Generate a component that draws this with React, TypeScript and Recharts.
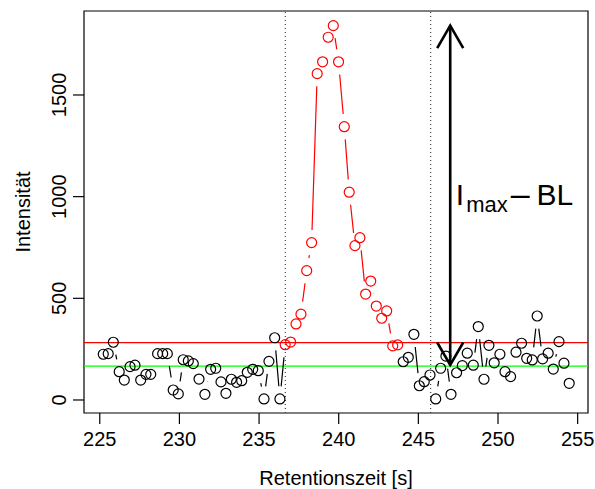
import React from "react";
import {
  ScatterChart,
  Scatter,
  XAxis,
  YAxis,
  ReferenceLine,
  ReferenceArea,
  ReferenceDot,
  Label,
} from "recharts";

// retention time [s] and intensity
const preTime = [
  225.22, 225.53, 225.85, 226.22, 226.54, 226.9, 227.21, 227.57, 227.9, 228.2,
  228.63, 228.95, 229.24, 229.61, 229.93, 230.24, 230.56, 230.87, 231.23, 231.6,
  231.96, 232.28, 232.61, 232.92, 233.26, 233.59, 233.91, 234.26, 234.6, 234.95,
  235.31, 235.62, 235.98, 236.31,
];
const preInt = [
  225, 228, 284, 139, 98, 164, 171, 98, 126, 126, 228, 228, 228, 49, 30, 198,
  192, 179, 103, 28, 151, 156, 89, 33, 102, 87, 95, 136, 151, 144, 5, 190, 306,
  5,
];

const peakTime = [
  236.64, 236.98, 237.32, 237.63, 237.99, 238.3, 238.65, 238.99, 239.34, 239.66,
  239.99, 240.35, 240.66, 241.02, 241.33, 241.69, 242.01, 242.36, 242.7, 243.01,
  243.39, 243.7,
];
const peakInt = [
  272, 285, 374, 422, 636, 774, 1605, 1663, 1784, 1841, 1663, 1344, 1022, 759,
  798, 521, 585, 462, 402, 438, 266, 271,
];

const postTime = [
  244.05, 244.37, 244.72, 245.06, 245.37, 245.73, 246.09, 246.4, 246.73, 247.05,
  247.4, 247.76, 248.07, 248.45, 248.76, 249.12, 249.43, 249.76, 250.12, 250.44,
  250.79, 251.13, 251.48, 251.8, 252.15, 252.46, 252.8, 253.15, 253.47, 253.83,
  254.14, 254.47,
];
const postInt = [
  188, 210, 323, 70, 90, 123, 5, 156, 216, 28, 134, 169, 230, 171, 361, 102,
  269, 183, 225, 139, 115, 235, 279, 205, 197, 413, 202, 230, 152, 287, 181, 82,
];

const xTicks = [225, 230, 235, 240, 245, 250, 255];
const yTicks = [0, 500, 1000, 1500];
const xDomain = [224.01, 255.65];
const yDomain = [-64, 1913];

const baseLine = 167; // BL
const threshold = 282;
const iMax = 1841;
const windowStart = 236.65;
const windowEnd = 245.77;
const arrowTime = 247.0;
const arrowEnd = 172;
const labelTime = 247.35;
const labelInt = 959;

const FONT = '"Liberation Sans", Arial, Helvetica, sans-serif';
const GAP = 12.7;

const zip = (t: number[], v: number[], hidden = false) =>
  t.map((x, i) => ({ t: x, v: v[i], hidden }));

// black line also runs into the first / out of the last red point
const preData = [...zip(preTime, preInt), ...zip(peakTime.slice(0, 1), peakInt.slice(0, 1), true)];
const peakData = zip(peakTime, peakInt);
const postData = [...zip(peakTime.slice(-1), peakInt.slice(-1), true), ...zip(postTime, postInt)];

// R style type="b": segments with a gap around every point
const gapLine = (color: string) => (props: any) => {
  const pts = props.points || [];
  const segs: React.ReactNode[] = [];
  for (let i = 0; i < pts.length - 1; i++) {
    const a = pts[i];
    const b = pts[i + 1];
    const dx = b.x - a.x;
    const dy = b.y - a.y;
    const d = Math.hypot(dx, dy);
    if (d <= 2 * GAP) continue;
    const ux = dx / d;
    const uy = dy / d;
    segs.push(
      <line
        key={i}
        x1={a.x + ux * GAP}
        y1={a.y + uy * GAP}
        x2={b.x - ux * GAP}
        y2={b.y - uy * GAP}
        stroke={color}
        strokeWidth={1.2}
      />
    );
  }
  return <g>{segs}</g>;
};

const ring = (color: string) => (props: any) =>
  props.payload && props.payload.hidden ? (
    <g />
  ) : (
    <circle cx={props.cx} cy={props.cy} r={5} fill="none" stroke={color} strokeWidth={1.2} />
  );

const YTick = (props: any) => {
  const { x, y, payload } = props;
  return (
    <text
      x={x}
      y={y}
      transform={`rotate(-90 ${x} ${y})`}
      textAnchor="middle"
      fontSize={20}
      fill="#000"
      fontFamily={FONT}
    >
      {payload.value}
    </text>
  );
};

const arrowShape = (props: any) => {
  const { x1, y1, x2, y2 } = props;
  const len = 26;
  const ang = (30 * Math.PI) / 180;
  const head = (tx: number, ty: number, dir: number) => {
    const hx = Math.sin(ang) * len;
    const hy = Math.cos(ang) * len * dir;
    return `M${tx - hx},${ty + hy} L${tx},${ty} L${tx + hx},${ty + hy}`;
  };
  const top = Math.min(y1, y2);
  const bottom = Math.max(y1, y2);
  return (
    <g stroke="#000" strokeWidth={2.6} fill="none">
      <line x1={x1} y1={top} x2={x2} y2={bottom} />
      <path d={head(x1, top, 1)} />
      <path d={head(x2, bottom, -1)} />
    </g>
  );
};

const annotation = (props: any) => (
  <text x={props.cx} y={props.cy} fontFamily={FONT} fontSize={30} fill="#000">
    I
    <tspan fontSize={22} dy={6.7} dx={2}>
      max
    </tspan>
    <tspan dy={-6.7} dx={3} fontSize={34}>
      –
    </tspan>
    <tspan dx={7}>BL</tspan>
  </text>
);

const yLabel = (props: any) => {
  const vb = props.viewBox;
  const x = vb.x + 30;
  const y = vb.y + vb.height / 2;
  return (
    <text
      x={x}
      y={y}
      transform={`rotate(-90 ${x} ${y})`}
      textAnchor="middle"
      fontSize={20}
      fill="#000"
      fontFamily={FONT}
    >
      Intensität
    </text>
  );
};

const xLabel = (props: any) => {
  const vb = props.viewBox;
  return (
    <text
      x={vb.x + vb.width / 2}
      y={vb.y + 72}
      textAnchor="middle"
      fontSize={20}
      fill="#000"
      fontFamily={FONT}
    >
      Retentionszeit [s]
    </text>
  );
};

export default function App() {
  return (
    <div style={{ position: "absolute", left: 0, top: 0, width: 595, height: 489, background: "#fff", fontFamily: FONT }}>
      <ScatterChart width={595} height={489} margin={{ top: 11, right: 7, bottom: 0, left: 0 }}>
        <XAxis
          type="number"
          dataKey="t"
          domain={xDomain}
          allowDataOverflow
          ticks={xTicks}
          interval={0}
          height={76}
          axisLine={false}
          tickLine={{ stroke: "#000", strokeWidth: 1.2 }}
          tickSize={11}
          tickMargin={8}
          tick={{ fill: "#000", fontSize: 20, fontFamily: FONT }}
        >
          <Label content={xLabel} />
        </XAxis>
        <YAxis
          type="number"
          dataKey="v"
          domain={yDomain}
          allowDataOverflow
          ticks={yTicks}
          interval={0}
          width={84}
          axisLine={false}
          tickLine={{ stroke: "#000", strokeWidth: 1.2 }}
          tickSize={11}
          tickMargin={7}
          tick={<YTick />}
        >
          <Label content={yLabel} />
        </YAxis>
        <ReferenceLine x={windowStart} stroke="#444" strokeWidth={1.2} strokeDasharray="1 3" />
        <ReferenceLine x={windowEnd} stroke="#444" strokeWidth={1.2} strokeDasharray="1 3" />
        <ReferenceLine y={threshold} stroke="#ff0000" strokeWidth={1.2} />
        <ReferenceLine y={baseLine} stroke="#00ff00" strokeWidth={1.2} />
        <Scatter
          data={preData}
          line={gapLine("#000")}
          lineType="joint"
          shape={ring("#000")}
          isAnimationActive={false}
        />
        <Scatter
          data={postData}
          line={gapLine("#000")}
          lineType="joint"
          shape={ring("#000")}
          isAnimationActive={false}
        />
        <Scatter
          data={peakData}
          line={gapLine("#ff0000")}
          lineType="joint"
          shape={ring("#ff0000")}
          isAnimationActive={false}
        />
        <ReferenceLine
          segment={[
            { x: arrowTime, y: iMax },
            { x: arrowTime, y: arrowEnd },
          ]}
          shape={arrowShape}
        />
        <ReferenceDot x={labelTime} y={labelInt} r={0} shape={annotation} />
        <ReferenceArea
          x1={xDomain[0]}
          x2={xDomain[1]}
          y1={yDomain[0]}
          y2={yDomain[1]}
          fill="none"
          stroke="#000"
          strokeWidth={1.2}
          ifOverflow="visible"
        />
      </ScatterChart>
    </div>
  );
}
